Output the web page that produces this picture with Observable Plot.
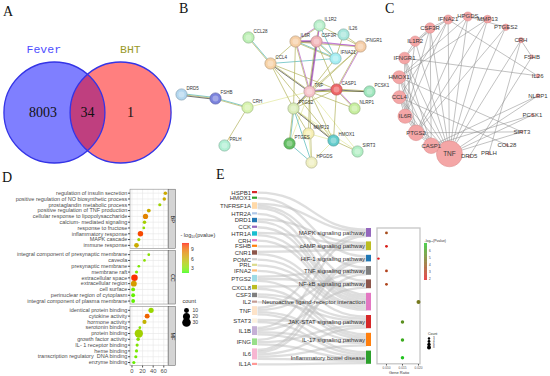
<!DOCTYPE html>
<html><head><meta charset="utf-8">
<script src="https://cdn.jsdelivr.net/npm/d3@7"></script>
<script src="https://cdn.jsdelivr.net/npm/@observablehq/plot@0.6"></script>
<style>
html,body{margin:0;padding:0;background:#fff;}
#fig{position:relative;width:550px;height:376px;overflow:hidden;background:#fff;}
.lab{position:absolute;font-family:"Liberation Serif","DejaVu Serif",serif;font-size:14px;line-height:14px;color:#111;}
</style></head><body><div id="fig"></div>
<script>
// ---------------- DATA ----------------
// A: Venn
const vennSets = ["Fever", "BHT"];
const vennSetColors = ["#4d4dff", "#9a9a2a"];
const vennRegionCounts = [8003, 34, 1];

// B / C: PPI network
const netGenes = ["DRD5","FSHB","CRH","PRLH","CCL28","CCL4","IL6R","CSF3R","IL1R2","IL26","IFNGR1","IFNA21","TNF","CASP1","PCSK1","NLRP1","PTGS2","MMP13","PTGES","HMOX1","HPGDS","SIRT3"];
const netLabelsB = ["DRD5","FSHB","CRH","PRLH","CCL28","CCL4","IL6R","CSF3R","IL1R2","IL26","IFNGR1","IFNA21","TNF","CASP1","PCSK1","NLRP1","PTGS2","MMP13","PTGES","HMOX1","HPGDS","SIRT3"];
const netX = [181,215,247,224,248,270,295,316,319,343,360,335,309,336,369,354,293,308,289,333,311,357];
const netY = [94,98,107,145,37,63,41,41,25,34,46,58,91,89,91,108,108,133,143,140,162,151];
const netColors = ["#b3d7ef","#7b83dd","#d7f3ad","#b1f0d4","#bdf0b5","#f7d2a6","#f6cfa6","#f2b4b8","#b8efcb","#a7e6dc","#f5cda6","#a5eef2","#f6c3c9","#ee6767","#9fe6bd","#c7ee9f","#d9ecb7","#f6efb3","#63bf63","#63cccc","#efefc1","#b3efc5"];
const netEdges = [
 ["CCL28","CCL4"],["DRD5","FSHB"],["FSHB","CRH"],["CRH","PRLH"],["CRH","TNF"],
 ["CCL4","IL6R"],["CCL4","TNF"],["CCL4","PTGS2"],["CCL4","CASP1"],["CCL4","IFNA21"],["CCL4","HMOX1"],
 ["IL6R","IL1R2"],["IL6R","CSF3R"],["IL6R","TNF"],["IL6R","PTGS2"],["IL6R","IFNA21"],["IL6R","IFNGR1"],
 ["IL1R2","CSF3R"],["IL1R2","IFNGR1"],["IL1R2","IFNA21"],["IL26","IFNGR1"],["IL26","IFNA21"],
 ["CSF3R","TNF"],["CSF3R","IFNGR1"],["CSF3R","IFNA21"],["CSF3R","CASP1"],
 ["IFNGR1","TNF"],["IFNGR1","CASP1"],["IFNGR1","PTGS2"],["IFNA21","TNF"],
 ["TNF","CASP1"],["TNF","PTGS2"],["TNF","NLRP1"],["TNF","MMP13"],["TNF","HMOX1"],["TNF","PTGES"],["TNF","SIRT3"],["TNF","PCSK1"],
 ["CASP1","NLRP1"],["CASP1","HMOX1"],["CASP1","PCSK1"],["CASP1","PTGS2"],
 ["PTGS2","MMP13"],["PTGS2","PTGES"],["PTGS2","HPGDS"],["PTGS2","HMOX1"],
 ["MMP13","HMOX1"],["MMP13","HPGDS"],["HMOX1","SIRT3"],["HMOX1","HPGDS"],["PTGES","HPGDS"],["PTGS2","SIRT3"],
 ["TNF","HPGDS"],["TNF","IL1R2"]
];
const netEdgeTypes = ["dt","dtx","dt","t","p","t","tx","t","t","d","t","et","ext","et","t","dt","et","et","t","d","t","t","ext","e","dt","t","t","et","t","t","ext","tx","t","t","t","p","p","t","et","t","tx","t","t","dt","d","tx","p","p","t","p","d","p","t","e"];
// C: circular layout order (sorted by degree) and labels
const circleOrder = ["TNF","DRD5","PRLH","CCL28","SIRT3","PCSK1","NLRP1","IL26","FSHB","CRH","PTGES","MMP13","HPGDS","IFNA21","CSF3R","IL1R2","IFNGR1","HMOX1","CCL4","IL6R","PTGS2","CASP1"];
const circleLabels = ["TNF","DRD5","PRLH","COL28","SIRT3","PCSK1","NLRP1","IL26","FSHB","CRH","PTGES2","MMP13","HPGDS","IFNA21","CSF3R","IL1R2","IFNGR1","HMOX1","CCL4","IL6R","PTGS2","CASP1"];
const circleDegree = [20,2,2,2,2,2,3,3,3,4,5,6,7,7,8,8,9,10,10,11,12,12];

// D: GO enrichment
const goCategory = ["BP","CC","MF"];
const bpTerms = ["regulation of insulin secretion","positive regulation of NO biosynthetic process","prostaglandin metabolic process","positive regulation of TNF production","cellular response to lipopolysaccharide","calcium- mediated signaling","response to fructose","inflammatory response","MAPK cascade","immune response"];
const bpX = [63,61,52.5,31.7,25.5,23.6,22.3,16,12.9,8.5];
const bpCount = [5,5,4,6,11,5,3,12,4,9];
const bpLogP = [6.3,6.3,4.0,6.2,8.0,4.3,3.5,10.0,3.8,6.2];
const ccTerms = ["integral component of presynaptic membrane","caveola","presynaptic membrane","membrane raft","extracellular space","extracellular region","cell surface","perinuclear region of cytoplasm","integral component of plasma membrane"];
const ccX = [31.7,23.6,12.9,8.5,4.7,3.5,2.2,2.2,2.2];
const ccCount = [3,3,3,4,17,14,6,6,6];
const ccLogP = [3.2,3.3,2.8,3.0,10.5,7.0,2.6,2.3,2.3];
const mfTerms = ["identical protein binding","cytokine activity","hormone activity","serotonin binding","protein binding","growth factor activity","IL- 1 receptor binding","heme binding","transcription regulatory  DNA binding","enzyme binding"];
const mfX = [36,28.6,23.6,14.8,12.9,11.6,9.7,8.5,7.2,3.5];
const mfCount = [11,10,7,3,28,5,4,4,4,4];
const mfLogP = [3.8,9.2,5.8,3.0,4.2,3.2,3.0,2.8,2.6,2.4];
const goXTicks = [0,20,40,60];
const goColorTicks = [3,6,9];
const goCountTicks = [10,20,30];

// E: KEGG sankey + dot plot
const keggGenes = ["HSPB1","HMOX1","TNFRSF1A","HTR2A","DRD1","CCK","HTR1A","CRH","FSHB","CNR1","POMC","PRL","IFNA2","PTGS2","CXCL8","CSF3","IL2","TNF","STAT3","IL1B","IFNG","IL6","IL1A"];
const geneColors = ["#d62728","#2ca02c","#ffd9a8","#aec7e8","#1f77b4","#9467bd","#17becf","#e377c2","#ff7f0e","#8c564b","#d0d0d0","#dbdb8d","#ffbb78","#9edae5","#bcbd22","#7f7f7f","#c49c94","#fde3c8","#fcf1df","#c5b0d5","#98df8a","#f7b6d2","#ff9896"];
const pathways = ["MAPK signaling pathway","cAMP signaling pathway","HIF-1 signaling pathway","TNF signaling pathway","NF-kB signaling pathway","Neuroactive ligand-receptor interaction","JAK-STAT signaling pathway","IL-17 signaling pathway","Inflammatory bowel disease"];
const pathwayColors = ["#9467bd","#bcbd22","#1f77b4","#7f7f7f","#8c564b","#e377c2","#d62728","#ff7f0e","#2ca02c"];
const pathwayGenes = [
 ["HSPB1","TNFRSF1A","TNF","IL1B"],
 ["DRD1","HTR1A","FSHB","CNR1"],
 ["HMOX1","IFNG","IL6"],
 ["TNFRSF1A","PTGS2","TNF","IL6"],
 ["TNFRSF1A","PTGS2","CXCL8","IL1B"],
 ["HTR2A","DRD1","CCK","HTR1A","CRH","CNR1","POMC","PRL"],
 ["IFNA2","CSF3","IL2","STAT3","IFNG","IL6"],
 ["PTGS2","CXCL8","CSF3","TNF","IL1B","IL6"],
 ["TNF","STAT3","IL1B","IFNG","IL6","IL1A"]
];
const geneRatio = [0.010,0.010,0.0075,0.010,0.010,0.020,0.015,0.015,0.015];
const pathwayLogP = [3.5,2.2,2.0,3.2,3.3,4.8,5.5,6.3,7.0];
const ratioTicks = [0.010,0.015,0.020];
const keggColorTicks = [2,3,4,5,6];
const keggCountTicks = [3,4,6,8];

// ---------------- HELPERS ----------------
const FONT = "Liberation Sans, Arial, Helvetica, sans-serif";
const fig = document.getElementById("fig");
function place(svg, left, top) {
  svg.style.position = "absolute";
  svg.style.left = left + "px";
  svg.style.top = top + "px";
  svg.style.background = "transparent";
  svg.style.maxWidth = "none";
  svg.style.overflow = "visible";
  fig.appendChild(svg);
}
function panelLabel(t, left, top) {
  const d = document.createElement("div");
  d.className = "lab"; d.textContent = t;
  d.style.left = left + "px"; d.style.top = top + "px";
  fig.appendChild(d);
}
const baseStyle = {background: "transparent", fontFamily: FONT, overflow: "visible"};

function colorBar({width, height, barX, barW, barTop, barBottom, color, ticks, fontSize, title, titleX, titleY, titleSize}) {
  const dom = color.domain, n = 60, st = (dom[1] - dom[0]) / n;
  const steps = d3.range(n).map(i => dom[0] + i * st);
  return Plot.plot({
    width, height, margin: 0, style: baseStyle,
    x: {domain: [0, width], range: [0, width], axis: null},
    y: {domain: dom, range: [barBottom, barTop], axis: null},
    color,
    marks: [
      Plot.rect(steps, {x1: barX, x2: barX + barW, y1: d => d, y2: d => d + st * 1.05, fill: d => d + st / 2}),
      Plot.text(ticks, {x: barX + barW, y: d => d, text: d => String(d), dx: 1.5, textAnchor: "start", fontSize, fill: "#333"}),
      Plot.text([title], {x: titleX, y: dom[1], dy: titleY - barTop, text: d => d, textAnchor: "start", fontSize: titleSize, fill: "#333"})
    ]
  });
}
function sizeLegend({width, height, dotX, yTop, yBottom, r, values, fontSize, title, titleX, titleY, titleSize, labelDx}) {
  return Plot.plot({
    width, height, margin: 0, style: baseStyle,
    x: {domain: [0, width], range: [0, width], axis: null},
    y: {type: "point", domain: values, range: [yTop, yBottom], axis: null},
    r,
    marks: [
      Plot.dot(values, {x: dotX, y: d => d, r: d => d, fill: "black"}),
      Plot.text(values, {x: dotX, y: d => d, text: d => String(d), dx: labelDx, textAnchor: "start", fontSize, fill: "#333"}),
      Plot.text([title], {x: titleX, y: values[0], dy: titleY - yTop, text: d => d, textAnchor: "start", fontSize: titleSize, fill: "#333"})
    ]
  });
}

// ---------------- A: Venn ----------------
const vennR = 50.5, vennC = 0.655;
const vennCircles = vennSets.map((s, i) => ({set: s, cx: i ? vennC : -vennC}));
const vennRegionX = [-0.88, 0, 0.85];
const vennTitleX = [-0.865, 0.85], vennTitleY = 1.25;
place(Plot.plot({
  width: 190, height: 170, margin: 0, style: baseStyle,
  x: {domain: [-1.723, 2.040], axis: null},
  y: {domain: [-1.149, 2.218], axis: null},
  marks: [
    Plot.dot(vennCircles.slice(0, 1), {x: "cx", y: 0, r: vennR, fill: "#7f7fff"}),
    Plot.dot(vennCircles.slice(1), {x: "cx", y: 0, r: vennR, fill: "#ff0000", fillOpacity: 0.5}),
    Plot.dot(vennCircles, {x: "cx", y: 0, r: vennR, stroke: "#3434e6", strokeWidth: 1.3}),
    Plot.text(vennRegionCounts, {x: (d, i) => vennRegionX[i], y: 0, text: d => String(d), fontSize: 14, fontFamily: "Liberation Serif, DejaVu Serif, serif", fill: "#111"}),
    Plot.text(vennSets, {x: (d, i) => vennTitleX[i], y: vennTitleY, text: d => d, fill: (d, i) => vennSetColors[i], fontSize: 11.5, fontFamily: "Liberation Mono, DejaVu Sans Mono, monospace"})
  ]
}), 0, 0);

// ---------------- B: STRING network ----------------
const netNodes = netGenes.map((g, i) => ({id: g, label: netLabelsB[i], x: netX[i], y: netY[i], color: netColors[i]}));
const nodeById = new Map(netNodes.map(d => [d.id, d]));
const evidenceColors = {t: "#b2b25c", e: "#b45ac8", d: "#4fb6b8", x: "#3c3c3c", p: "#e3e89c"};
const strands = [];
netEdges.forEach(([a, b], i) => {
  const A = nodeById.get(a), B = nodeById.get(b);
  const types = netEdgeTypes[i].split("");
  const dx = B.x - A.x, dy = B.y - A.y, L = Math.hypot(dx, dy);
  const nx = -dy / L, ny = dx / L;
  types.forEach((t, k) => {
    const o = (k - (types.length - 1) / 2) * 0.9;
    strands.push({x1: A.x + nx * o, y1: A.y + ny * o, x2: B.x + nx * o, y2: B.y + ny * o, color: evidenceColors[t]});
  });
});
place(Plot.plot({
  width: 225, height: 170, margin: 0, style: baseStyle,
  x: {domain: [175, 400], axis: null},
  y: {domain: [0, 170], range: [0, 170], axis: null},
  marks: [
    Plot.link(strands, {x1: "x1", y1: "y1", x2: "x2", y2: "y2", stroke: "color", strokeWidth: 0.7}),
    Plot.dot(netNodes, {x: "x", y: "y", r: 5.6, fill: "color", stroke: d => d3.color(d.color).darker(0.8).formatHex(), strokeWidth: 0.7}),
    Plot.dot(netNodes, {x: "x", y: "y", r: 3, fill: "white", fillOpacity: 0.3}),
    Plot.text(netNodes, {x: "x", y: "y", text: "label", dx: 5, dy: -6, textAnchor: "start", fontSize: 4.5, fill: "#333"})
  ]
}), 175, 0);

// ---------------- C: circular network ----------------
const circCx = 468, circCy = 86, circR = 70, circStart = 105.8;
const circNodes = circleOrder.map((g, i) => {
  const a = (circStart - i * 360 / circleOrder.length) * Math.PI / 180;
  return {id: g, label: circleLabels[i], deg: circleDegree[i], x: circCx + circR * Math.cos(a), y: circCy + circR * Math.sin(a)};
});
const circById = new Map(circNodes.map(d => [d.id, d]));
const circLinks = netEdges.map(([a, b]) => ({s: circById.get(a), t: circById.get(b)}));
place(Plot.plot({
  width: 185, height: 170, margin: 0, style: baseStyle,
  x: {domain: [365, 550], axis: null},
  y: {domain: [0, 170], range: [0, 170], axis: null},
  r: {type: "linear", domain: [0, 20], range: [0, 13]},
  marks: [
    Plot.link(circLinks, {x1: d => d.s.x, y1: d => d.s.y, x2: d => d.t.x, y2: d => d.t.y, stroke: "#8f8f8f", strokeWidth: 0.55}),
    Plot.dot(circNodes, {x: "x", y: "y", r: "deg", fill: "#f4a6a6", stroke: "#d88a8a", strokeWidth: 0.5}),
    Plot.text(circNodes, {x: "x", y: "y", text: "label", fontSize: d => d.id === "TNF" ? 6.5 : 6, fill: "#3a3a3a"})
  ]
}), 365, 0);

// ---------------- D: GO dot plot ----------------
const goSets = [[bpTerms, bpX, bpCount, bpLogP], [ccTerms, ccX, ccCount, ccLogP], [mfTerms, mfX, mfCount, mfLogP]];
const GAP = 0.6;
const goRows = [];
goSets.forEach(([terms, xs, cs, ps], g) => terms.forEach((t, i) => goRows.push({cat: goCategory[g], g, term: t, x: xs[i], count: cs[i], logp: ps[i]})));
goRows.forEach((r, i) => r.pos = i + r.g * GAP);
const goGroups = goCategory.map((c, g) => {
  const rows = goRows.filter(r => r.g === g);
  return {cat: c, y1: rows[0].pos - 0.6, y2: rows[rows.length - 1].pos + 0.6};
});
const termByPos = new Map(goRows.map(r => [r.pos, r.term]));
const xDomD = [-2.8, 68.9];
const pxUD = 38 / (xDomD[1] - xDomD[0]);
const stripX0 = xDomD[1] + 0.6 / pxUD, stripX1 = xDomD[1] + 7.5 / pxUD;
const gridOf = xs => goGroups.flatMap(g => xs.map(x => ({x, y1: g.y1, y2: g.y2})));
const colorD = {type: "linear", domain: [1.4, 10.9], range: ["#00ff00", "#ff0000"], interpolate: "lab"};
const rD = {domain: [0, 30], range: [0, 4.3]};
const lastPos = goRows[goRows.length - 1].pos;
place(Plot.plot({
  width: 200, height: 206, marginLeft: 130, marginRight: 32, marginTop: 19.2, marginBottom: 10.5,
  style: {...baseStyle, color: "#4d4d4d"},
  x: {domain: xDomD},
  y: {domain: [-0.6, lastPos + 0.6], reverse: true},
  r: rD, color: colorD,
  marks: [
    Plot.rect(goGroups, {x1: xDomD[0], x2: xDomD[1], y1: "y1", y2: "y2", fill: "white"}),
    Plot.ruleX(gridOf([10, 30, 50]), {x: "x", y1: "y1", y2: "y2", stroke: "#f3f3f3", strokeWidth: 0.4}),
    Plot.ruleX(gridOf(goXTicks), {x: "x", y1: "y1", y2: "y2", stroke: "#e6e6e6", strokeWidth: 0.6}),
    Plot.ruleY(goRows, {y: "pos", x1: xDomD[0], x2: xDomD[1], stroke: "#e6e6e6", strokeWidth: 0.6}),
    Plot.rect(goGroups, {x1: xDomD[0], x2: xDomD[1], y1: "y1", y2: "y2", fill: "none", stroke: "#8c8c8c", strokeWidth: 0.6}),
    Plot.rect(goGroups, {x1: stripX0, x2: stripX1, y1: "y1", y2: "y2", fill: "#d4d4d4", stroke: "#5a5a5a", strokeWidth: 0.5}),
    Plot.text(goGroups, {x: (stripX0 + stripX1) / 2, y: d => (d.y1 + d.y2) / 2, text: "cat", rotate: 90, fontSize: 5.5, fill: "#1a1a1a"}),
    Plot.dot(goRows, {x: "x", y: "pos", r: "count", fill: "logp"}),
    Plot.axisY(goRows.map(d => d.pos), {tickFormat: p => termByPos.get(p), tickSize: 2, tickPadding: 1.2, fontSize: 5.5, label: null}),
    Plot.axisX(goXTicks, {tickSize: 2, tickPadding: 1, fontSize: 5.8, label: null})
  ]
}), 0, 170);
place(colorBar({width: 45, height: 55, barX: 7, barW: 7, barTop: 18, barBottom: 48, color: colorD, ticks: goColorTicks, fontSize: 5,
  title: "- log₁₀(pvalue)", titleX: 5, titleY: 10, titleSize: 5.5}), 175, 225);
place(sizeLegend({width: 30, height: 44, dotX: 11, yTop: 16, yBottom: 35, r: rD, values: goCountTicks, fontSize: 5,
  title: "count", titleX: 7, titleY: 7, titleSize: 5.5, labelDx: 6}), 175, 290);

// ---------------- E: KEGG sankey + dot plot ----------------
const U = 2.2;                    // px per gene-pathway link
const leftPad = 3.41 / U, rightPad = 4.6 / U, rightOffset = 37 / U;
const links = [];
pathways.forEach((p, j) => pathwayGenes[j].forEach(g => links.push({gene: g, gi: keggGenes.indexOf(g), path: p, pj: j})));
const geneNodes = [];
let yy = 0;
keggGenes.forEach((g, i) => {
  const c = links.filter(l => l.gi === i).length;
  geneNodes.push({name: g, y0: yy, y1: yy + c, color: geneColors[i]});
  yy += c + leftPad;
});
const leftTotal = yy - leftPad;
const pathNodes = [];
yy = rightOffset;
pathways.forEach((p, j) => {
  const c = pathwayGenes[j].length;
  pathNodes.push({name: p, y0: yy, y1: yy + c, color: pathwayColors[j], count: c, ratio: geneRatio[j], logp: pathwayLogP[j]});
  yy += c + rightPad;
});
geneNodes.forEach((n, i) => {
  let o = n.y0;
  links.filter(l => l.gi === i).sort((a, b) => a.pj - b.pj).forEach(l => { l.ys = o + 0.5; o += 1; });
});
pathNodes.forEach((n, j) => {
  let o = n.y0;
  links.filter(l => l.pj === j).sort((a, b) => a.gi - b.gi).forEach(l => { l.yt = o + 0.5; o += 1; });
});
const eY = {domain: [0, leftTotal], range: [21, 21 + leftTotal * U], axis: null};
const barW = 5 / 109;
place(Plot.plot({
  width: 350, height: 206, margin: 0, style: baseStyle,
  x: {domain: [0, 1], range: [57, 166], axis: null},
  y: eY,
  marks: [
    Plot.link(links, {x1: 0, x2: 1, y1: "ys", y2: "yt", curve: "bump-x", stroke: "#bdbdbd", strokeOpacity: 0.5, strokeWidth: U + 0.1}),
    Plot.rect(geneNodes, {x1: -barW, x2: 0, y1: "y0", y2: "y1", fill: "color"}),
    Plot.text(geneNodes, {x: -barW, y: d => (d.y0 + d.y1) / 2, text: "name", textAnchor: "end", dx: -1.5, fontSize: 6, fill: "#333"}),
    Plot.rect(pathNodes, {x1: 1, x2: 1 + barW, y1: "y0", y2: "y1", fill: "color"}),
    Plot.text(pathNodes, {x: 1, y: d => (d.y0 + d.y1) / 2, text: "name", textAnchor: "end", dx: -1.5, fontSize: 6, fill: "#333"})
  ]
}), 200, 170);

const colorE = {type: "linear", domain: [1.86, 7.05], range: ["#e5141b", "#1fc41f"], interpolate: "rgb"};
const rE = {domain: [0, 8], range: [0, 2]};
const ratioDom = [0.0072, 0.02063];
place(Plot.plot({
  width: 173, height: 206, marginLeft: 0, marginRight: 130, marginTop: 0, marginBottom: 12,
  style: {...baseStyle, color: "#555"},
  x: {domain: ratioDom},
  y: eY,
  r: rE, color: colorE,
  marks: [
    Plot.rect([pathNodes], {x1: ratioDom[0], x2: ratioDom[1], y1: d => d[0].y0, y2: d => d[d.length - 1].y1, fill: "white", stroke: "#c6c6c6", strokeWidth: 1.3}),
    Plot.dot(pathNodes, {x: "ratio", y: d => (d.y0 + d.y1) / 2, r: "count", fill: "logp"}),
    Plot.axisX(ratioTicks, {tickSize: 1.5, tickPadding: 0.6, fontSize: 3.2, tickFormat: d3.format(".3f"), label: null}),
    Plot.text(["Gene Ratio"], {frameAnchor: "bottom", dy: 9.5, text: d => d, fontSize: 4, fill: "#333"})
  ]
}), 377, 170);
place(colorBar({width: 40, height: 50, barX: 4, barW: 3, barTop: 8, barBottom: 45, color: colorE, ticks: keggColorTicks, fontSize: 3,
  title: "-log₁₀(Pvalue)", titleX: 4, titleY: 5.5, titleSize: 3.5}), 420, 235);
place(sizeLegend({width: 30, height: 30, dotX: 8.5, yTop: 11, yBottom: 24, r: rE, values: keggCountTicks, fontSize: 3,
  title: "Count", titleX: 7.5, titleY: 6, titleSize: 3.5, labelDx: 4}), 420, 325);

// panel letters
panelLabel("A", 3, 5);
panelLabel("B", 179, 1.5);
panelLabel("C", 385, 1.5);
panelLabel("D", 2, 170.5);
panelLabel("E", 216, 167.5);
</script></body></html>
